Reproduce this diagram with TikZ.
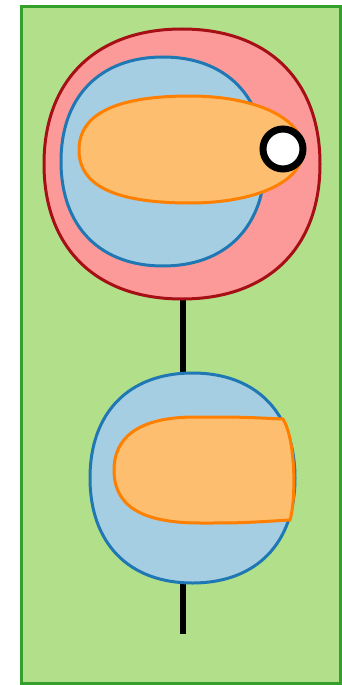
\documentclass[tikz,border=0pt]{standalone}
\definecolor{gfill}{HTML}{B2DF8A}
\definecolor{gline}{HTML}{33A02C}
\definecolor{rfill}{HTML}{FB9A99}
\definecolor{rline}{HTML}{A50F15}
\definecolor{bfill}{HTML}{A6CEE3}
\definecolor{bline}{HTML}{1F78B4}
\definecolor{ofill}{HTML}{FDBF6F}
\definecolor{oline}{HTML}{FF7F00}
\tikzset{
  frame/.style={fill=gfill,draw=gline,line width=3},
  redblob/.style={fill=rfill,draw=rline,line width=3},
  blueblob/.style={fill=bfill,draw=bline,line width=3},
  orangeblob/.style={fill=ofill,draw=oline,line width=3},
  link/.style={draw=black,line width=6.5},
  ring/.style={circle,fill=white,draw=black,line width=7,minimum size=40,inner sep=0}
}
\begin{document}
\begin{tikzpicture}[x=1pt,y=-1pt]
\useasboundingbox (0,0) rectangle (342,685);
\draw[frame] (21,7) rectangle (340,683);
% named attachment points
\coordinate (redbottom) at (183,299);
\coordinate (bluetop) at (183,373);
\coordinate (bluebottom) at (183,583);
\coordinate (tail) at (183,634);
\draw[link] (redbottom) -- (bluetop);
\draw[link] (bluebottom) -- (tail);
% upper red blob
\path[redblob] (44,164) .. controls (44,80) and (96,29) .. (182,29)
  .. controls (268,29) and (320,80) .. (320,164)
  .. controls (320,248) and (268,299) .. (182,299)
  .. controls (96,299) and (44,248) .. (44,164) -- cycle;
% upper blue blob
\path[blueblob] (61,161.5) .. controls (61,96.5) and (100,57) .. (163,57)
  .. controls (226,57) and (265,96.5) .. (265,161.5)
  .. controls (265,226.5) and (226,266) .. (163,266)
  .. controls (100,266) and (61,226.5) .. (61,161.5) -- cycle;
% upper orange blob
\path[orangeblob] (79,150) .. controls (79,112) and (120,96) .. (190,96)
  .. controls (255,96) and (303,118) .. (303,150)
  .. controls (303,182) and (255,203) .. (190,203)
  .. controls (120,203) and (79,188) .. (79,150) -- cycle;
\node[ring] (dot) at (283,149) {};
% lower blue blob
\path[blueblob] (90,478) .. controls (90,413) and (128.5,373) .. (192.5,373)
  .. controls (256.5,373) and (295,413) .. (295,478)
  .. controls (295,543) and (256.5,583) .. (192.5,583)
  .. controls (128.5,583) and (90,543) .. (90,478) -- cycle;
% lower orange blob
\path[orangeblob] (283,419) .. controls (240,417) .. (195,417)
  .. controls (135,417) and (114,440) .. (114,470)
  .. controls (114,505) and (140,523) .. (200,523)
  .. controls (240,523) .. (290,520)
  .. controls (296,500) and (296,440) .. (283,419) -- cycle;
\end{tikzpicture}
\end{document}
